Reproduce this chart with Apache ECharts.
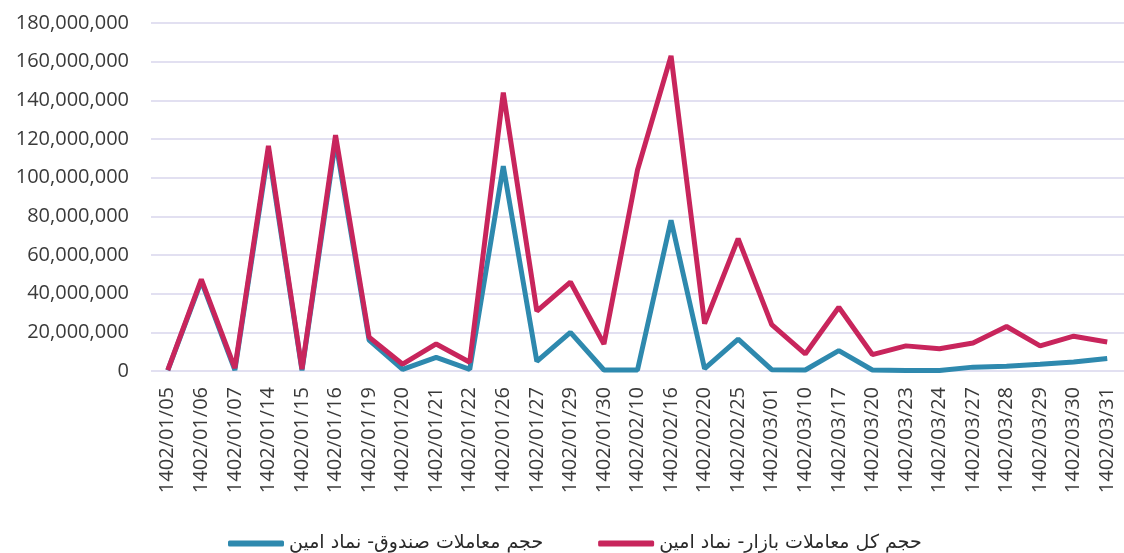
<!DOCTYPE html>
<html>
<head>
<meta charset="utf-8">
<script src="https://cdn.jsdelivr.net/npm/echarts@6/dist/echarts.min.js"></script>
<style>
  html, body { margin: 0; padding: 0; background: #fff; }
  #chart { width: 1124px; height: 553px; }
</style>
</head>
<body>
<div id="chart"></div>
<script>
// تاریخ ها
var categories = [
  "1402/01/05", "1402/01/06", "1402/01/07", "1402/01/14", "1402/01/15",
  "1402/01/16", "1402/01/19", "1402/01/20", "1402/01/21", "1402/01/22",
  "1402/01/26", "1402/01/27", "1402/01/29", "1402/01/30", "1402/02/10",
  "1402/02/16", "1402/02/20", "1402/02/25", "1402/03/01", "1402/03/10",
  "1402/03/17", "1402/03/20", "1402/03/23", "1402/03/24", "1402/03/27",
  "1402/03/28", "1402/03/29", "1402/03/30", "1402/03/31"
];

var fundName = "حجم معاملات صندوق- نماد امین";
var marketName = "حجم کل معاملات بازار- نماد امین";

// حجم معاملات صندوق
var fundVolume = [
  300000, 46500000, 500000, 114000000, 300000,
  119000000, 16000000, 800000, 7000000, 800000,
  106000000, 5000000, 20000000, 500000, 500000,
  78000000, 1200000, 16500000, 700000, 500000,
  10500000, 500000, 300000, 300000, 2000000,
  2500000, 3500000, 4700000, 6500000
];

// حجم کل معاملات بازار
var marketVolume = [
  500000, 47400000, 1500000, 116500000, 1000000,
  122000000, 17500000, 3500000, 14000000, 4500000,
  144000000, 31000000, 46000000, 14000000, 104000000,
  163000000, 24500000, 68500000, 24000000, 8800000,
  33000000, 8500000, 13000000, 11500000, 14500000,
  23000000, 13000000, 18000000, 15000000
];

var chart = echarts.init(document.getElementById("chart"));

var option = {
  animation: false,
  backgroundColor: "#ffffff",
  grid: {
    left: 151,
    right: -8,
    top: 23,
    bottom: 182
  },
  legend: {
    left: 223,
    top: 529,
    itemGap: 55,
    itemWidth: 56,
    itemHeight: 6,
    icon: "roundRect",
    textStyle: {
      fontFamily: "DejaVu Sans",
      fontSize: 19,
      color: "#2a2a2a"
    },
    data: [fundName, marketName]
  },
  xAxis: {
    type: "category",
    data: categories,
    boundaryGap: true,
    axisLine: { show: false },
    axisTick: { show: false },
    axisLabel: {
      interval: 0,
      rotate: 90,
      margin: 16,
      fontFamily: "Open Sans",
      fontSize: 20,
      color: "#3a3a3a"
    }
  },
  yAxis: {
    type: "value",
    min: 0,
    max: 180000000,
    interval: 20000000,
    axisLine: { show: false },
    axisTick: { show: false },
    splitLine: {
      lineStyle: { color: "#d9d6ec", width: 1.5 }
    },
    axisLabel: {
      margin: 22,
      fontFamily: "Open Sans",
      fontSize: 20,
      color: "#3a3a3a",
      formatter: function (v) {
        return v.toLocaleString("en-US");
      }
    }
  },
  series: [
    {
      name: fundName,
      type: "line",
      data: fundVolume,
      showSymbol: false,
      symbol: "none",
      lineStyle: { color: "#2e89ae", width: 5 },
      itemStyle: { color: "#2e89ae" }
    },
    {
      name: marketName,
      type: "line",
      data: marketVolume,
      showSymbol: false,
      symbol: "none",
      lineStyle: { color: "#c8255c", width: 5 },
      itemStyle: { color: "#c8255c" }
    }
  ]
};

chart.setOption(option);
</script>
</body>
</html>
